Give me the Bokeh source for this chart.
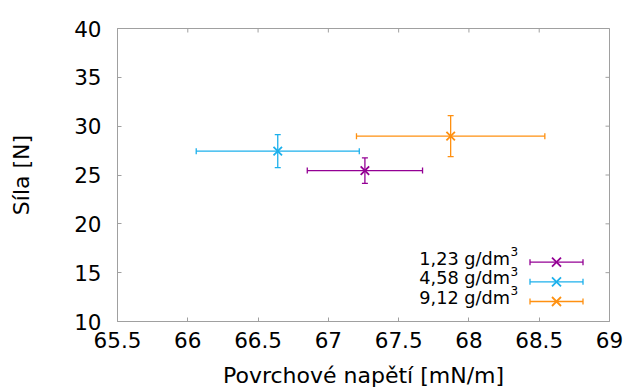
import math
from bokeh.plotting import figure
from bokeh.models import (ColumnDataSource, Whisker, FixedTicker, Label, Arrow, TeeHead, Range1d)
from bokeh.embed import file_html
from bokeh.resources import INLINE

# ---- data ----
series_labels = ["1,23 g/dm", "4,58 g/dm", "9,12 g/dm"]
label_sup = "3"
tension = [67.26, 66.64, 67.87]          # Povrchové napětí [mN/m]
tension_err = [0.41, 0.58, 0.67]
force = [25.45, 27.44, 28.98]            # Síla [N]
force_err = [1.30, 1.69, 2.10]
colors = ["#940094", "#1cb0ec", "#ff9010"]
x_ticks = [65.5, 66, 66.5, 67, 67.5, 68, 68.5, 69]
x_tick_labels = ["65.5", "66", "66.5", "67", "67.5", "68", "68.5", "69"]
y_ticks = [10, 15, 20, 25, 30, 35, 40]
x_title = "Povrchové napětí [mN/m]"
y_title = "Síla [N]"

FONT = "DejaVu Sans"
GRAY = "#a0a0a0"

p = figure(width=626, height=390, x_range=Range1d(65.5, 69), y_range=Range1d(10, 40),
           output_backend="svg", toolbar_location=None,
           min_border_left=117, min_border_right=17, min_border_top=28, min_border_bottom=68)
p.grid.visible = False
p.outline_line_color = GRAY
p.background_fill_color = "white"

for ax in (p.xaxis[0], p.yaxis[0]):
    ax.axis_line_color = GRAY
    ax.major_tick_line_color = GRAY
    ax.major_tick_in = 4
    ax.major_tick_out = 0
    ax.minor_tick_line_color = None
    ax.major_label_text_font = FONT
    ax.major_label_text_font_size = "21.5px"
    ax.major_label_text_color = "black"
    ax.axis_label_text_font = FONT
    ax.axis_label_text_font_size = "22px"
    ax.axis_label_text_font_style = "normal"
    ax.axis_label_text_color = "black"

ax = p.xaxis[0]
ax.ticker = FixedTicker(ticks=x_ticks)
ax.major_label_overrides = {t: l for t, l in zip(x_ticks, x_tick_labels)}
ax.axis_label = x_title
ax.major_label_standoff = 10
ax.axis_label_standoff = 12

yax = p.yaxis[0]
yax.ticker = FixedTicker(ticks=y_ticks)
yax.axis_label = y_title
yax.major_label_standoff = 16
yax.axis_label_standoff = 37

# mirrored ticks on the top and right borders (half of each dash is clipped by the frame)
p.scatter(x=x_ticks, y=[p.y_range.end] * len(x_ticks), marker="dash", size=8, angle=math.pi / 2,
          line_color=GRAY, line_width=1)
p.scatter(x=[p.x_range.end] * len(y_ticks), y=y_ticks, marker="dash", size=8,
          line_color=GRAY, line_width=1)

# ---- data marks ----
for i in range(3):
    src = ColumnDataSource(dict(x=[tension[i]], y=[force[i]],
                                xl=[tension[i] - tension_err[i]], xu=[tension[i] + tension_err[i]],
                                yl=[force[i] - force_err[i]], yu=[force[i] + force_err[i]]))
    c = colors[i]
    for base, lo, hi, dim in (("y", "xl", "xu", "width"), ("x", "yl", "yu", "height")):
        p.add_layout(Whisker(source=src, base=base, lower=lo, upper=hi, dimension=dim,
                             line_color=c, line_width=1.3,
                             lower_head=TeeHead(size=6, line_color=c, line_width=1.3),
                             upper_head=TeeHead(size=6, line_color=c, line_width=1.3)))
    p.scatter("x", "y", source=src, marker="x", size=12, line_color=c, line_width=1.8)

# ---- legend (gnuplot style: text on the left, sample on the right) ----
# screen units are measured from the frame's bottom-left corner
row_mid = [59.3, 39.7, 20.0]
for i, ym in enumerate(row_mid):
    c = colors[i]
    p.add_layout(Label(x=392.5, y=ym + 3.7, x_units="screen", y_units="screen", text=series_labels[i],
                       text_align="right", text_baseline="middle", text_font=FONT,
                       text_font_size="17.7px", text_color="black"))
    p.add_layout(Label(x=393, y=ym + 10.7, x_units="screen", y_units="screen", text=label_sup,
                       text_align="left", text_baseline="middle", text_font=FONT,
                       text_font_size="12px", text_color="black"))
    x0, x1, xm = 412.5, 465.5, 439
    segs = [((x0, ym), (x1, ym)), ((x0, ym - 3), (x0, ym + 3)), ((x1, ym - 3), (x1, ym + 3)),
            ((xm - 4.5, ym - 4.5), (xm + 4.5, ym + 4.5)), ((xm - 4.5, ym + 4.5), (xm + 4.5, ym - 4.5))]
    for k, ((a0, b0), (a1, b1)) in enumerate(segs):
        p.add_layout(Arrow(x_start=a0, y_start=b0, x_end=a1, y_end=b1, start_units="screen",
                           end_units="screen", end=None, start=None, line_color=c,
                           line_width=1.8 if k >= 3 else 1.3))

open("out.html", "w").write(file_html(p, INLINE))
